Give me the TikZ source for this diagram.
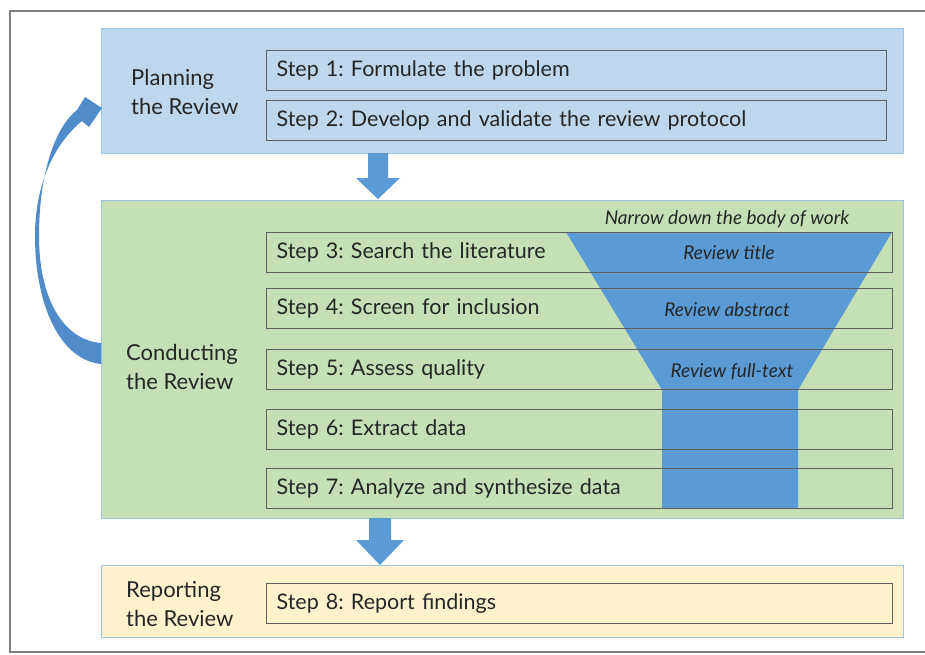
\documentclass[tikz,border=0pt]{standalone}
\usepackage{fontspec}
\setmainfont{Lato}
\frenchspacing
\usetikzlibrary{calc}
\definecolor{planfill}{HTML}{BDD7EE}
\definecolor{condfill}{HTML}{C5E0B4}
\definecolor{repfill}{HTML}{FFF2CC}
\definecolor{phaseedge}{HTML}{9DC3E6}
\definecolor{arrowblue}{HTML}{5B9BD5}
\definecolor{curveblue}{HTML}{4F8CC9}
\definecolor{stepedge}{HTML}{606060}
\definecolor{txt}{HTML}{262626}
\definecolor{framegray}{HTML}{7F7F7F}
\tikzset{
  phase/.style={draw=phaseedge, line width=1.2pt, anchor=north west, inner sep=0pt},
  stepbox/.style={draw=stepedge, line width=1.1pt, anchor=north west, minimum height=40pt,
    inner xsep=10pt, inner ysep=0pt, align=left, text=txt, font=\fontsize{21.5}{25}\selectfont},
  lbl/.style={anchor=west, align=left, text=txt, inner sep=0pt, font=\fontsize{22}{28.5}\selectfont},
  funlbl/.style={text=txt, inner sep=0pt, font=\fontsize{19}{22}\selectfont\itshape},
  blockarrow/.style={fill=arrowblue, draw=none}
}
\begin{document}
\begin{tikzpicture}[x=1pt,y=-1pt]
\useasboundingbox (0,0) rectangle (925,654);
\fill[white] (0,0) rectangle (925,654);
\draw[framegray, line width=2pt] (10,11) rectangle (935,652);

% phase boxes
\node[phase, fill=planfill, minimum width=802pt, minimum height=125pt] (plan) at (101,28) {};
\node[phase, fill=condfill, minimum width=802pt, minimum height=318pt] (cond) at (101,200) {};
\node[phase, fill=repfill, minimum width=802pt, minimum height=72pt] (rep) at (101,565) {};

% phase labels
\node[lbl] (planlbl) at (131,92) {Planning\\the Review};
\node[lbl] (condlbl) at (126,367) {Conducting\\the Review};
\node[lbl] (replbl) at (126,604) {Reporting\\the Review};

% funnel
\fill[arrowblue] (566,232) -- (892,232) -- (798,390) -- (798,508) -- (662,508) -- (662,390) -- cycle;

% steps
\node[stepbox, minimum width=620pt, text width=600pt] (s1) at (266,50) {Step 1: Formulate the problem};
\node[stepbox, minimum width=620pt, text width=600pt] (s2) at (266,100) {Step 2: Develop and validate the review protocol};
\node[stepbox, minimum width=626pt, text width=606pt] (s3) at (266,232) {Step 3: Search the literature};
\node[stepbox, minimum width=626pt, text width=606pt] (s4) at (266,288) {Step 4: Screen for inclusion};
\node[stepbox, minimum width=626pt, text width=606pt] (s5) at (266,349) {Step 5: Assess quality};
\node[stepbox, minimum width=626pt, text width=606pt] (s6) at (266,409) {Step 6: Extract data};
\node[stepbox, minimum width=626pt, text width=606pt] (s7) at (266,468) {Step 7: Analyze and synthesize data};
\node[stepbox, minimum width=626pt, text width=606pt] (s8) at (266,583) {Step 8: Report findings};

% funnel labels
\node[funlbl] (narrow) at (727,219) {Narrow down the body of work};
\node[funlbl] (ftitle) at (729,253) {Review title};
\node[funlbl] (fabs) at (727,310) {Review abstract};
\node[funlbl] (ffull) at (732,372) {Review full-text};

% down arrows
\coordinate (a1s) at (378,153);
\coordinate (a1e) at (378,199);
\fill[blockarrow] ($(a1s)+(-10,0)$) -- ($(a1s)+(10,0)$) -- ($(a1e)+(10,-21)$) -- ($(a1e)+(22,-21)$)
  -- (a1e) -- ($(a1e)+(-22,-21)$) -- ($(a1e)+(-10,-21)$) -- cycle;
\coordinate (a2s) at (380,518);
\coordinate (a2e) at (380,565);
\fill[blockarrow] ($(a2s)+(-11,0)$) -- ($(a2s)+(11,0)$) -- ($(a2e)+(11,-25)$) -- ($(a2e)+(24,-25)$)
  -- (a2e) -- ($(a2e)+(-24,-25)$) -- ($(a2e)+(-11,-25)$) -- cycle;

% curved return arrow
\fill[curveblue] (101,364) .. controls (60,360) and (35,305) .. (35,236)
  .. controls (35,182) and (56,142) .. (82,121)
  -- (89,127) -- (102,108) -- (85,97) -- (77,110)
  .. controls (54,128) and (39,176) .. (39,236)
  .. controls (39,298) and (63,340) .. (101,343) -- cycle;
\end{tikzpicture}
\end{document}
